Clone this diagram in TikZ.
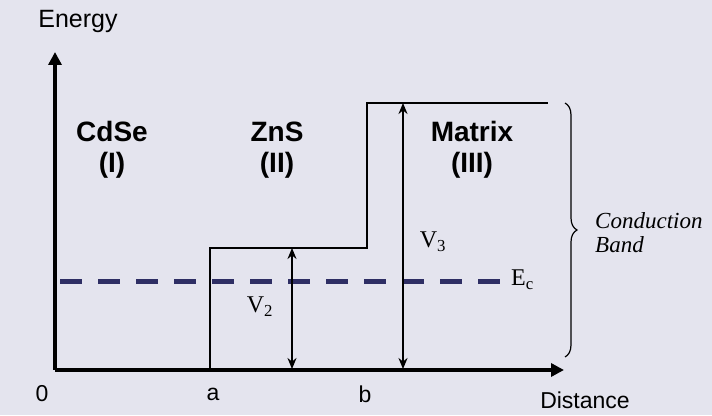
\documentclass[tikz,border=0pt]{standalone}
\usepackage{fontspec}
\setmainfont{Liberation Sans}
\newfontfamily\tmsfont{Liberation Serif}
\usepackage{tikz}
\usetikzlibrary{arrows.meta,calc,positioning,decorations.pathreplacing}
\definecolor{bgcol}{RGB}{228,228,238}
\definecolor{ecol}{RGB}{46,46,100}
\tikzset{
  axis/.style={-{Triangle[length=13pt,width=13pt]},line width=4pt},
  band/.style={line width=2.6pt},
  ecline/.style={line width=5pt,ecol,dash pattern=on 22pt off 16pt},
  gap/.style={{Stealth[length=11pt,width=9pt]}-{Stealth[length=11pt,width=9pt]},line width=2.6pt},
  region/.style={font=\fontsize{28}{31}\selectfont\bfseries,align=center},
  tick/.style={font=\fontsize{23}{26}\selectfont},
  serif/.style={font=\fontsize{24}{28}\selectfont\tmsfont},
  every node/.style={inner sep=1pt}
}

\begin{document}
\begin{tikzpicture}[x=1pt,y=1pt]
\fill[bgcol] (0,0) rectangle (712,415);
\useasboundingbox (0,0) rectangle (712,415);
% axes
\coordinate (O) at (55,45);
\coordinate (ytip) at (55,363);
\coordinate (xtip) at (564,45);
\draw[axis] (O) -- (ytip);
\draw[axis] (O) -- (xtip);
\node[tick,font=\fontsize{25}{28}\selectfont] (energy) at (78,394) {Energy};
\node[tick] (dist) at (585,15) {Distance};
\node[tick] (zero) at (42,21) {0};
\node[tick] (pa) at (213,21) {a};
\node[tick] (pb) at (365,21) {b};
% conduction band steps
\coordinate (a0) at (210,45);
\coordinate (a1) at (210,167);
\coordinate (b1) at (367,167);
\coordinate (b2) at (367,312);
\coordinate (c2) at (548,312);
\draw[band] (a0) -- (a1) -- (b1) -- (b2) -- (c2);
% Fermi level
\coordinate (e0) at (60,133);
\coordinate (e1) at (505,133);
\draw[ecline] (e0) -- (e1);
\node[serif,anchor=west] (ec) at (510,135) {E\textsubscript{c}};
% barrier heights
\coordinate (v2t) at (292,167);
\coordinate (v2b) at (292,46);
\coordinate (v3t) at (403,312);
\coordinate (v3b) at (403,46);
\draw[gap] (v2b) -- (v2t);
\draw[gap] (v3b) -- (v3t);
\node[serif] (v2) at (260,108) {V\textsubscript{2}};
\node[serif] (v3) at (433,173) {V\textsubscript{3}};
% regions
\node[region] (cdse) at (112,265) {CdSe\\(I)};
\node[region] (zns) at (277,265) {ZnS\\(II)};
\node[region] (matrix) at (472,265) {Matrix\\(III)};
% brace
\coordinate (br0) at (565,312);
\coordinate (br1) at (565,58);
\draw[line width=1.2pt,decorate,decoration={brace,amplitude=12pt}] (br0) -- (br1);
\node[serif,anchor=west,align=left,font=\fontsize{23}{24}\selectfont\tmsfont\itshape] (cb) at (594,182) {Conduction\\Band};
\end{tikzpicture}
\end{document}
